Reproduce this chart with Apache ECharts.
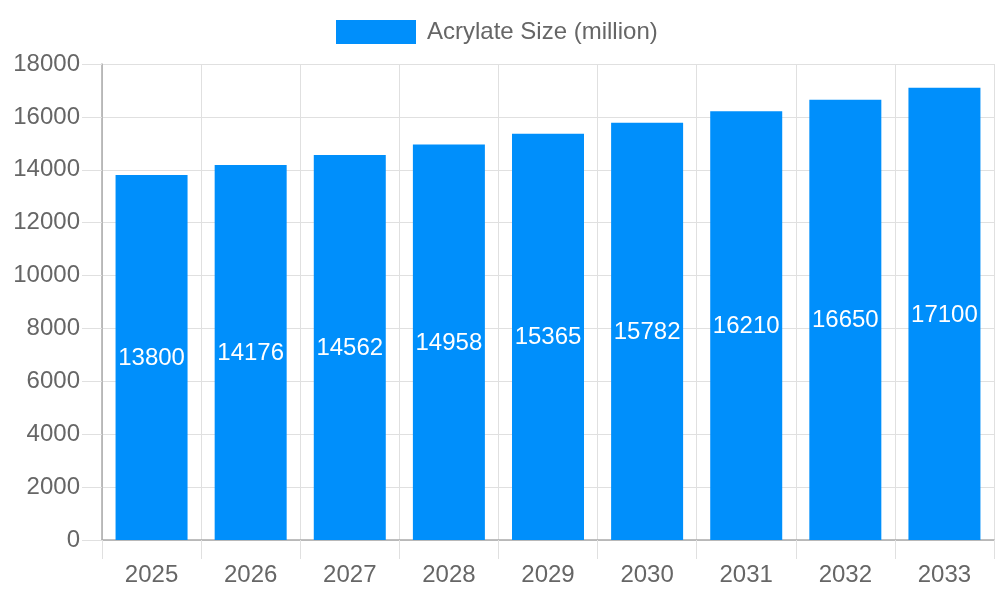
<!DOCTYPE html>
<html>
<head>
<meta charset="utf-8">
<script src="https://cdn.jsdelivr.net/npm/echarts@6/dist/echarts.min.js"></script>
<style>html,body{margin:0;padding:0;background:#fff}#c{width:1000px;height:600px}</style>
</head>
<body>
<div id="c"></div>
<script>
const categories = ['2025','2026','2027','2028','2029','2030','2031','2032','2033'];
const seriesName = 'Acrylate Size (million)';
const values = [13800, 14176, 14562, 14958, 15365, 15782, 16210, 16650, 17100];
const yTicks = { min: 0, max: 18000, interval: 2000 };

const chart = echarts.init(document.getElementById('c'));
const font = 'Liberation Sans, Arial, sans-serif';
chart.setOption({
  animation: false,
  textStyle: { fontFamily: font },
  legend: {
    data: [seriesName],
    top: 15,
    left: 331,
    itemWidth: 80,
    itemHeight: 24,
    itemGap: 12,
    textStyle: { color: '#666', fontSize: 24, fontFamily: font, padding: [0, 0, 0, 6] },
    icon: 'rect'
  },
  grid: { left: 102, right: 6, top: 64, bottom: 60, containLabel: false },
  xAxis: {
    type: 'category',
    data: categories,
    axisLine: { show: true, lineStyle: { color: '#aaa', width: 1.5 } },
    axisTick: { show: true, length: 19, lineStyle: { color: '#e0e0e0' } },
    splitLine: { show: true, lineStyle: { color: '#e0e0e0', width: 1 } },
    axisLabel: { color: '#666', fontSize: 24, margin: 23, fontFamily: font }
  },
  yAxis: {
    type: 'value',
    min: yTicks.min, max: yTicks.max, interval: yTicks.interval,
    axisLine: { show: true, lineStyle: { color: '#aaa', width: 1.5 } },
    axisTick: { show: true, length: 20, lineStyle: { color: '#e0e0e0' } },
    splitLine: { show: true, lineStyle: { color: '#e0e0e0', width: 1 } },
    axisLabel: { color: '#666', fontSize: 24, margin: 22, fontFamily: font, formatter: v => String(v) }
  },
  series: [{
    name: seriesName,
    type: 'bar',
    data: values,
    barWidth: 72,
    itemStyle: { color: '#008FFB' },
    label: {
      show: true,
      position: 'inside',
      color: '#fff',
      fontSize: 24,
      fontFamily: font,
      offset: [0, 1]
    }
  }]
});
</script>
</body>
</html>
